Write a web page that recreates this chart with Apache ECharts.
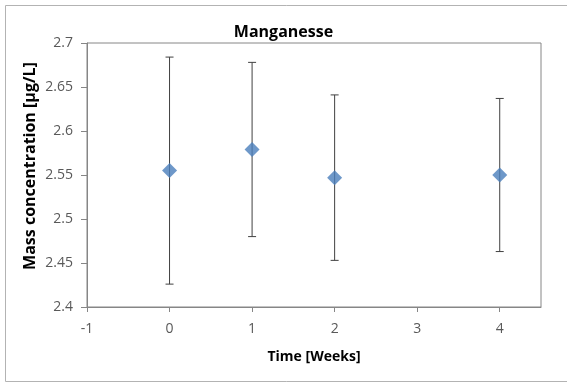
<!DOCTYPE html>
<html>
<head>
<meta charset="utf-8">
<script src="https://cdn.jsdelivr.net/npm/echarts@6/dist/echarts.min.js"></script>
<style>
  html, body { margin: 0; padding: 0; background: #fff; }
  #chart { width: 567px; height: 383px; }
</style>
</head>
<body>
<div id="chart"></div>
<script>
// Manganese concentration over time (mean ± standard deviation)
const weeks = [0, 1, 2, 4];
const means = [2.555, 2.579, 2.547, 2.550];
const errors = [0.129, 0.099, 0.094, 0.087];
const xTicks = [-1, 0, 1, 2, 3, 4];

const FONT = '"Open Sans", "Liberation Sans", sans-serif';

const pointData = weeks.map((w, i) => [w, means[i]]);
const errorData = weeks.map((w, i) => [w, means[i] - errors[i], means[i] + errors[i]]);

const chart = echarts.init(document.getElementById('chart'), null, { renderer: 'canvas' });

chart.setOption({
  animation: false,
  backgroundColor: '#fff',
  title: {
    text: 'Manganesse',
    left: 'center',
    top: 19,
    textStyle: { fontFamily: FONT, fontSize: 16, fontWeight: 'bold', color: '#000' }
  },
  grid: {
    left: 87, right: 26, top: 43, bottom: 76,
    show: true, borderColor: '#868686', borderWidth: 1
  },
  xAxis: {
    type: 'value',
    min: -1, max: 4.5, interval: 1,
    axisLine: { onZero: false, lineStyle: { color: '#868686' } },
    axisTick: { show: true, length: 5, lineStyle: { color: '#868686' }, customValues: xTicks },
    axisLabel: { customValues: xTicks, margin: 15, color: '#595959', fontFamily: FONT, fontSize: 14 },
    splitLine: { show: false }
  },
  yAxis: {
    type: 'value',
    min: 2.4, max: 2.7, interval: 0.05,
    axisLine: { show: true, onZero: false, lineStyle: { color: '#868686' } },
    axisTick: { show: true, length: 6, lineStyle: { color: '#868686' } },
    axisLabel: {
      margin: 14, color: '#595959', fontFamily: FONT, fontSize: 14,
      formatter: v => String(Math.round(v * 100) / 100)
    },
    splitLine: { show: false }
  },
  graphic: [
    {
      type: 'rect', silent: true, z: -1,
      shape: { x: 5.5, y: 5.5, width: 600, height: 376 },
      style: { fill: 'none', stroke: '#b3b3b3', lineWidth: 1 }
    },
    {
      type: 'text', silent: true,
      x: 30, y: 166, rotation: Math.PI / 2,
      style: {
        text: 'Mass concentration [µg/L]',
        x: 0, y: 0, align: 'center', verticalAlign: 'middle',
        font: 'bold 16px ' + FONT, fill: '#000'
      }
    },
    {
      type: 'text', silent: true,
      x: 314, y: 357,
      style: {
        text: 'Time [Weeks]',
        x: 0, y: 0, align: 'center', verticalAlign: 'middle',
        font: 'bold 14px ' + FONT, fill: '#000'
      }
    }
  ],
  series: [
    {
      type: 'custom',
      name: 'error',
      data: errorData,
      z: 1,
      renderItem: function (params, api) {
        const x = api.value(0);
        const lo = api.coord([x, api.value(1)]);
        const hi = api.coord([x, api.value(2)]);
        const cap = 4;
        const style = { stroke: '#404040', lineWidth: 1 };
        return {
          type: 'group',
          children: [
            { type: 'line', shape: { x1: lo[0], y1: lo[1], x2: hi[0], y2: hi[1] }, style: style },
            { type: 'line', shape: { x1: hi[0] - cap, y1: hi[1], x2: hi[0] + cap, y2: hi[1] }, style: style },
            { type: 'line', shape: { x1: lo[0] - cap, y1: lo[1], x2: lo[0] + cap, y2: lo[1] }, style: style }
          ]
        };
      }
    },
    {
      type: 'scatter',
      name: 'Mn',
      data: pointData,
      symbol: 'diamond',
      symbolSize: 15,
      z: 2,
      itemStyle: { color: '#4A7EBB' }
    }
  ]
});
</script>
</body>
</html>
